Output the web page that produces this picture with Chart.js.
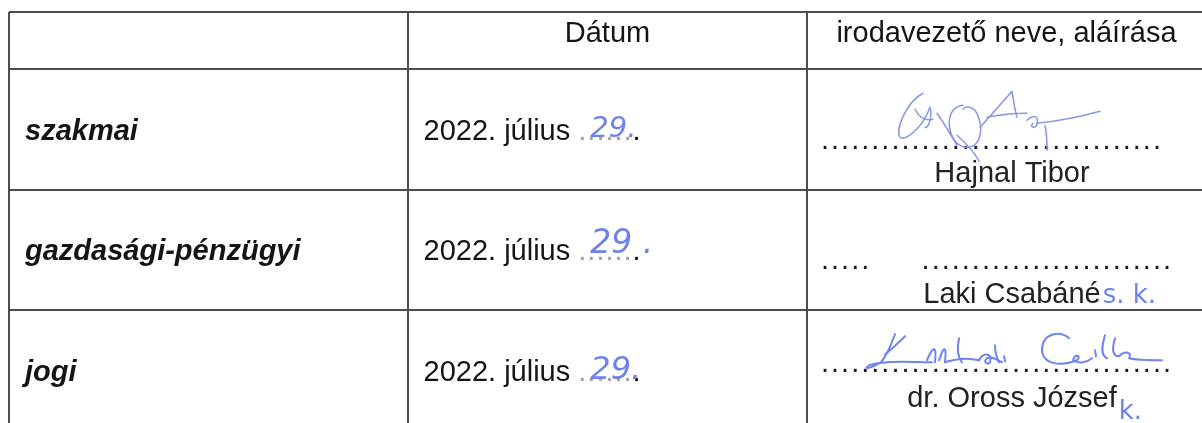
<!DOCTYPE html>
<html lang="hu">
<head>
<meta charset="utf-8">
<title>Jóváhagyás</title>
<script src="https://cdn.jsdelivr.net/npm/chart.js@4.4.1/dist/chart.umd.min.js"></script>
<style>
  html, body { margin: 0; padding: 0; background: #fff; }
  #wrap { position: relative; width: 1202px; height: 423px; }
</style>
</head>
<body>
<div id="wrap"><canvas id="tableChart"></canvas></div>
<script>
// tábla tartalma
const columnHeaders = ["", "Dátum", "irodavezető neve, aláírása"];
const rowLabels = ["szakmai", "gazdasági-pénzügyi", "jogi"];
const dateTexts = ["2022. július", "2022. július", "2022. július"];
const dayNotes = ["29.", "29 .", "29."];
const signerNames = ["Hajnal Tibor", "Laki Csabáné", "dr. Oross József"];
const nameNotes = ["", "s. k.", "k."];

// oszlop- és sorhatárok (tengelyegységben)
const colEdges = [0, 1, 2];
const rowEdges = [0, 0.475, 1.475, 2.475];

const FONT = "'Liberation Sans', Arial, sans-serif";
const TEXT = "#151515";
const INK = "#6f82ea";

// [pontsor baseline, név baseline, kézírásos nap baseline, nap betűméret] a sor közepéhez képest
const rowOffsets = [[19.5, 52.5, 8, 29], [19, 53, 3, 33], [1.5, 36.5, 9, 32]];
const dotLines = [
  ".".repeat(34),
  "....." + "     " + ".".repeat(25),
  ".".repeat(35),
];

const signatures = [
  {
    color: "#8797e4", width: 1.5,
    paths: [
      "M116 24 C100 32, 88 60, 93 68 C98 72, 115 60, 123 38 C126 50, 120 60, 118 58",
      "M108 40 C112 48, 118 52, 126 50",
      "M130 44 C138 55, 143 65, 150 76",
      "M156 36 C135 38, 140 75, 158 78 C175 80, 178 55, 168 41 C162 36, 157 38, 156 40",
      "M173 58 C185 45, 198 30, 205 22 C207 35, 208 42, 210 48 M180 48 C195 45, 210 44, 220 44",
      "M220 51 C226 45, 232 46, 230 55 C228 60, 222 58, 226 54 M238 56 C240 65, 240 75, 240 81",
      "M230 54 C250 52, 275 47, 293 42",
      "M150 66 C160 75, 168 84, 172 92",
    ],
  },
  null,
  {
    color: "#7084ee", width: 2,
    paths: [
      "M88 24 C84 35, 80 45, 74 52 C64 58, 55 60, 62 55 C80 50, 100 52, 125 52",
      "M78 44 C86 38, 92 32, 98 26",
      "M120 50 C125 38, 130 32, 128 52",
      "M132 50 C136 38, 140 32, 138 52",
      "M138 52 C150 48, 160 47, 172 50",
      "M152 28 C150 38, 150 46, 155 52",
      "M172 50 C176 42, 186 42, 183 52 C180 55, 176 52, 180 48 C185 45, 190 50, 195 52",
      "M188 35 C188 42, 190 48, 192 52",
      "M197 46 L198 51",
      "M262 28 C255 20, 235 22, 235 40 C236 55, 255 56, 270 50 C275 45, 268 43, 266 50 C272 54, 280 52, 285 48",
      "M288 40 L289 46",
      "M298 25 C295 35, 293 45, 300 48 M308 28 C305 38, 305 46, 312 46",
      "M312 46 C318 40, 326 42, 322 48 C330 50, 345 50, 355 50",
    ],
  },
];

const tablePlugin = {
  id: "tableText",
  afterDraw(chart) {
    const ctx = chart.ctx;
    const x = chart.scales.x;
    const y = chart.scales.y;
    ctx.save();
    ctx.textBaseline = "alphabetic";

    // fejléc
    const headY = (y.getPixelForValue(rowEdges[0]) + y.getPixelForValue(rowEdges[1])) / 2 + 1.5;
    ctx.fillStyle = TEXT;
    ctx.font = "29px " + FONT;
    ctx.textAlign = "center";
    columnHeaders.forEach((h, i) => {
      if (!h) return;
      const cx = x.getPixelForValue(i + 0.5);
      ctx.fillText(h, cx, headY);
    });

    rowLabels.forEach((label, r) => {
      const top = y.getPixelForValue(rowEdges[r + 1]);
      const cy = y.getPixelForValue(rowEdges[r + 1] + 0.5);
      const base = cy + 10.5;
      const off = rowOffsets[r];

      // sorcímke
      ctx.textAlign = "left";
      ctx.fillStyle = TEXT;
      ctx.font = "italic bold 29px " + FONT;
      ctx.fillText(label, x.getPixelForValue(0) + 16, base);

      // dátum
      ctx.font = "29px " + FONT;
      const dx = x.getPixelForValue(1) + 15.5;
      ctx.fillText(dateTexts[r] + " ", dx, base);
      const w = ctx.measureText(dateTexts[r] + " ").width;
      ctx.fillStyle = "#a0a0a0";
      ctx.letterSpacing = "1px";
      ctx.fillText("......", dx + w, base);
      const w2 = ctx.measureText("......").width;
      ctx.letterSpacing = "0px";
      ctx.fillStyle = TEXT;
      ctx.fillText(".", dx + w + w2, base);

      // kézzel írt nap
      ctx.fillStyle = INK;
      ctx.font = "italic " + off[3] + "px 'DejaVu Sans ExtraLight', 'DejaVu Sans', sans-serif";
      ctx.fillText(dayNotes[r], dx + w + 12, cy + off[2]);

      // pontsor és név
      const c2 = x.getPixelForValue(2);
      ctx.fillStyle = "#1a1a1a";
      ctx.font = "29px " + FONT;
      ctx.letterSpacing = "2px";
      ctx.fillText(dotLines[r], c2 + 14, cy + off[0]);
      ctx.letterSpacing = "0px";

      ctx.fillStyle = "#222";
      ctx.textAlign = "center";
      const nx = c2 + 205;
      const ny = cy + off[1];
      ctx.fillText(signerNames[r], nx, ny);
      const nw = ctx.measureText(signerNames[r]).width;

      if (nameNotes[r]) {
        ctx.textAlign = "left";
        ctx.fillStyle = INK;
        ctx.font = "26px 'DejaVu Sans', sans-serif";
        const sub = r === 2 ? 12 : 0;
        ctx.fillText(nameNotes[r], nx + nw / 2 + 2, ny + sub);
      }

      // aláírás
      const sig = signatures[r];
      if (sig) {
        ctx.save();
        ctx.translate(c2, top);
        ctx.strokeStyle = sig.color;
        ctx.lineWidth = sig.width;
        ctx.lineCap = "round";
        ctx.lineJoin = "round";
        sig.paths.forEach((p) => ctx.stroke(new Path2D(p)));
        ctx.restore();
      }
    });
    ctx.restore();
  },
};

const gridStyle = { color: "#4d4d4d", lineWidth: 2, drawTicks: false };

new Chart(document.getElementById("tableChart"), {
  type: "scatter",
  data: { datasets: [{ data: [], pointRadius: 0 }] },
  plugins: [tablePlugin],
  options: {
    responsive: true,
    maintainAspectRatio: false,
    animation: false,
    events: [],
    layout: { padding: { top: 12, left: 9, right: 0, bottom: 0 } },
    plugins: { legend: { display: false }, tooltip: { enabled: false } },
    scales: {
      x: {
        type: "linear",
        min: 0,
        max: 1193 / 399,
        grid: gridStyle,
        border: { display: false },
        ticks: { display: false },
        afterBuildTicks: (s) => { s.ticks = colEdges.map((v) => ({ value: v })); },
      },
      y: {
        type: "linear",
        reverse: true,
        min: 0,
        max: 411 / 120.5,
        grid: gridStyle,
        border: { display: false },
        ticks: { display: false },
        afterBuildTicks: (s) => { s.ticks = rowEdges.map((v) => ({ value: v })); },
      },
    },
  },
});
</script>
</body>
</html>
